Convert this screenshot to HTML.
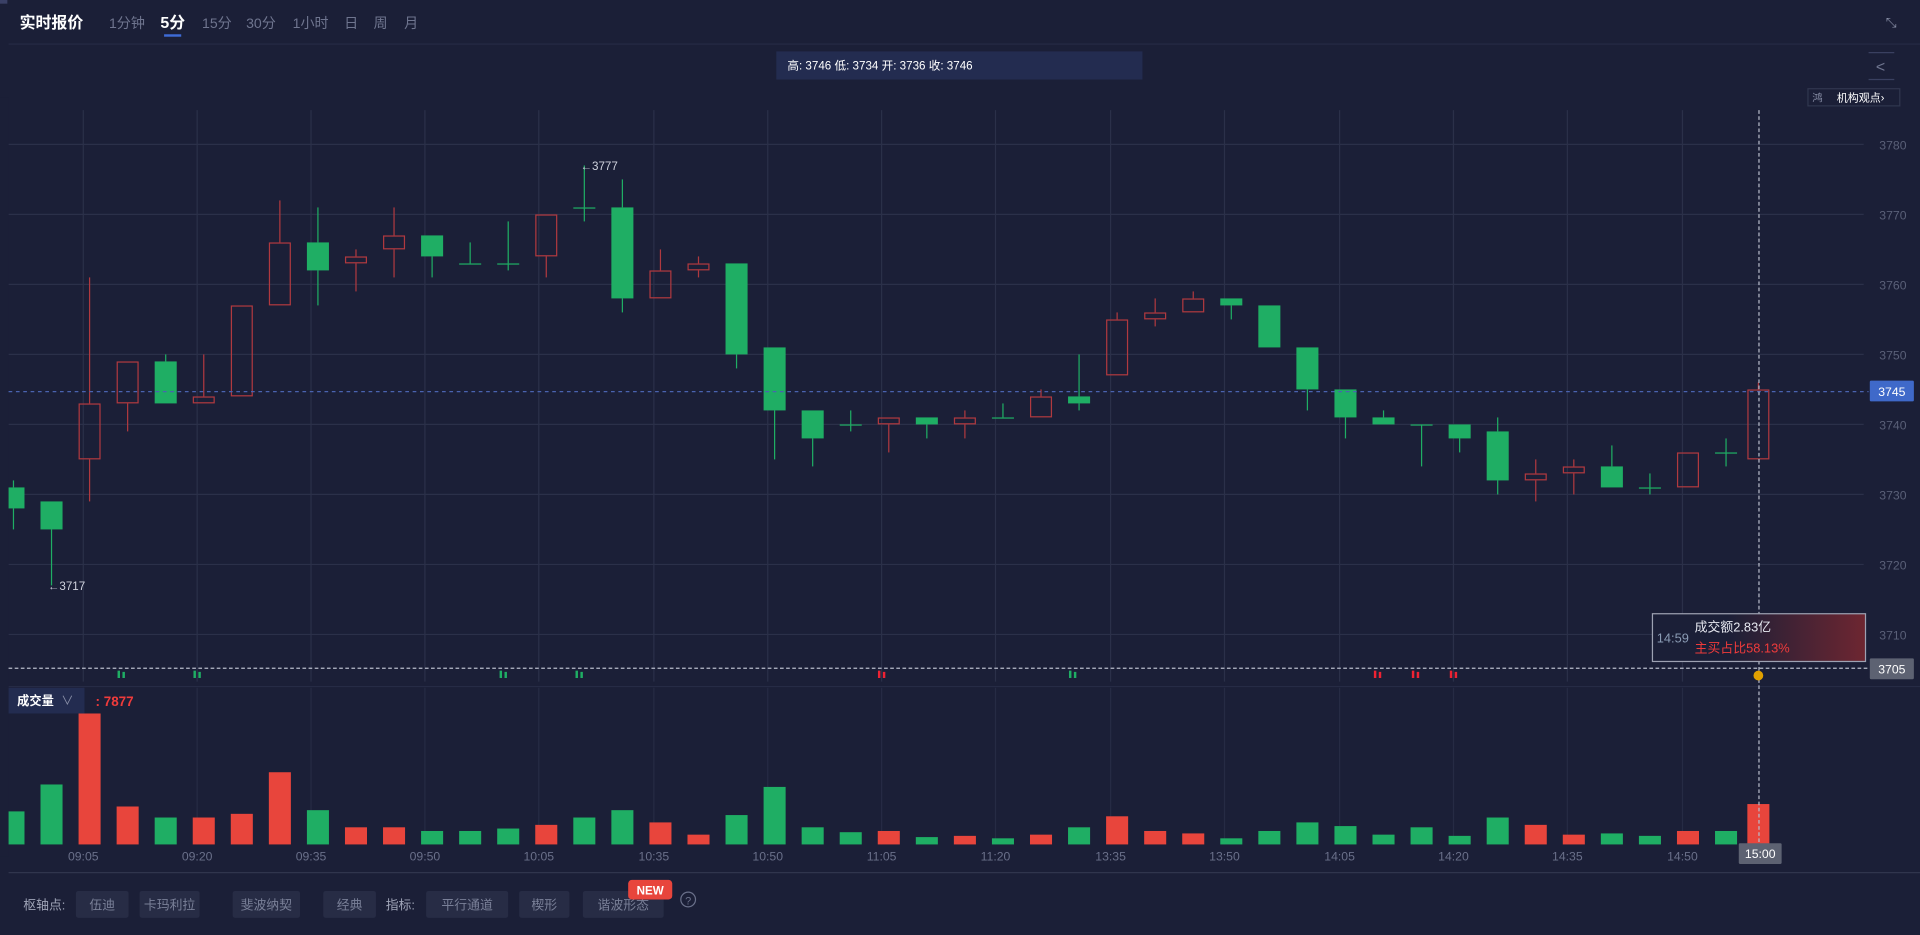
<!DOCTYPE html>
<html><head><meta charset="utf-8">
<style>
html,body{margin:0;padding:0;background:#1b1f37;overflow:hidden}
svg{display:block}
text{font-family:"Liberation Sans","Noto Sans CJK SC",sans-serif}
</style></head><body>
<svg id="s" width="1920" height="935" viewBox="0 0 1568 764" preserveAspectRatio="none" xmlns="http://www.w3.org/2000/svg">
<rect width="1568" height="764" fill="#1b1f37"/>
<rect x="0" y="0" width="6" height="3" fill="#3a4066"/>
<text x="16" y="23" fill="#fff" font-size="13" font-weight="bold">实时报价</text>
<text x="89" y="23" fill="#6f758f" font-size="11.5">1分钟</text>
<text x="131" y="23" fill="#fff" font-size="13" font-weight="bold">5分</text>
<rect x="134" y="28" width="14" height="2" fill="#3e6bd6"/>
<text x="165" y="23" fill="#6f758f" font-size="11.5">15分</text>
<text x="201" y="23" fill="#6f758f" font-size="11.5">30分</text>
<text x="239" y="23" fill="#6f758f" font-size="11.5">1小时</text>
<text x="281" y="23" fill="#6f758f" font-size="11.5">日</text>
<text x="305" y="23" fill="#6f758f" font-size="11.5">周</text>
<text x="330" y="23" fill="#6f758f" font-size="11.5">月</text>
<text x="1540" y="22" fill="#8a90a8" font-size="11">⤡</text>
<line x1="7" y1="36" x2="1568" y2="36" stroke="#262b45" stroke-width="1"/>
<rect x="634" y="42" width="299" height="23" fill="#232c50"/>
<text x="643" y="57" fill="#fff" font-size="9.5">高: 3746 低: 3734 开: 3736 收: 3746</text>
<line x1="1526" y1="43" x2="1547" y2="43" stroke="#3a4060"/><line x1="1526" y1="65" x2="1547" y2="65" stroke="#3a4060"/>
<text x="1532" y="59" fill="#6f758f" font-size="13">&lt;</text>
<rect x="1476.5" y="72.5" width="75" height="14" fill="none" stroke="#30364f"/>
<text x="1480" y="83" fill="#8a90a8" font-size="8.5">鸿</text>
<text x="1500" y="83" fill="#fff" font-size="9">机构观点›</text>
<g id="grid"></g>
<g id="c"></g>
<g id="v"></g>
<g id="ov"></g>
</svg>
<script>
var NS="http://www.w3.org/2000/svg";
function el(p,t,a,txt){var e=document.createElementNS(NS,t);for(var k in a)e.setAttribute(k,a[k]);if(txt!=null)e.textContent=txt;document.getElementById(p).appendChild(e);return e;}
function Y(p){return 118+(3780-p)*5.72;}
var tl=[["09:05",68],["09:20",161],["09:35",254],["09:50",347],["10:05",440],["10:35",534],["10:50",627],["11:05",720],["11:20",813],["13:35",907],["13:50",1000],["14:05",1094],["14:20",1187],["14:35",1280],["14:50",1374]];
tl.forEach(function(t){el("grid","line",{x1:t[1],y1:90,x2:t[1],y2:557,stroke:"#2b3049"});el("grid","line",{x1:t[1],y1:562,x2:t[1],y2:690,stroke:"#262b44"});el("grid","text",{x:t[1],y:703,fill:"#6a708a","font-size":10,"text-anchor":"middle"},t[0]);});
[3780,3770,3760,3750,3740,3730,3720,3710].forEach(function(p){var y=Y(p);el("grid","line",{x1:7,y1:y,x2:1522,y2:y,stroke:"#2b3049"});el("grid","text",{x:1557,y:y+4,fill:"#5a6078","font-size":10,"text-anchor":"end"},p);});
el("grid","line",{x1:7,y1:561,x2:1568,y2:561,stroke:"#262b45"});
el("grid","line",{x1:7,y1:713,x2:1568,y2:713,stroke:"#30354d"});
var D=[[3731,3732,3725,3728],[3729,3729,3717,3725],[3735,3761,3729,3743],[3743,3749,3739,3749],[3749,3750,3743,3743],[3743,3750,3743,3744],[3744,3757,3744,3757],[3757,3772,3757,3766],[3766,3771,3757,3762],[3763,3765,3759,3764],[3765,3771,3761,3767],[3767,3767,3761,3764],[3763,3766,3763,3763],[3763,3769,3762,3763],[3764,3770,3761,3770],[3771,3777,3769,3771],[3771,3775,3756,3758],[3758,3765,3758,3762],[3762,3764,3761,3763],[3763,3763,3748,3750],[3751,3751,3735,3742],[3742,3742,3734,3738],[3740,3742,3739,3740],[3740,3741,3736,3741],[3741,3741,3738,3740],[3740,3742,3738,3741],[3741,3743,3741,3741],[3741,3745,3741,3744],[3744,3750,3742,3743],[3747,3756,3747,3755],[3755,3758,3754,3756],[3756,3759,3756,3758],[3758,3758,3755,3757],[3757,3757,3751,3751],[3751,3751,3742,3745],[3745,3745,3738,3741],[3741,3742,3740,3740],[3740,3740,3734,3740],[3740,3740,3736,3738],[3739,3741,3730,3732],[3732,3735,3729,3733],[3733,3735,3730,3734],[3734,3737,3731,3731],[3731,3733,3730,3731],[3731,3736,3731,3736],[3736,3738,3734,3736],[3735,3746,3735,3745]];
var VT=[663,641,583,659,668,668,665,631,662,676,676,679,679,677,674,668,662,672,682,666,643,676,680,679,684,683,685,682,676,667,679,681,685,679,672,675,682,676,683,668,674,682,681,683,679,679,657];
var G="#1fae64",R="#b0393f",VR="#e8453c";
D.forEach(function(d,i){
 var x=11+i*31.08; if(i==46)x=1436;
 var up=d[3]>d[0]; var col=up?R:G;
 var t=Y(Math.max(d[0],d[3])),b=Y(Math.min(d[0],d[3]));
 el("c","line",{x1:x,y1:Y(d[1]),x2:x,y2:t,stroke:col,"stroke-width":1});
 el("c","line",{x1:x,y1:b,x2:x,y2:Y(d[2]),stroke:col,"stroke-width":1});
 var h=Math.max(b-t,1);
 if(up) el("c","rect",{x:x-8.5,y:t+0.5,width:17,height:Math.max(h-1,1),fill:"none",stroke:col,"stroke-width":1});
 else el("c","rect",{x:x-9,y:t,width:18,height:h,fill:col});
 var vx=x-9, w=18; if(vx<7){w-=7-vx;vx=7;}
 el("v","rect",{x:vx,y:VT[i],width:w,height:690-VT[i],fill:up?VR:G});
});
el("c","rect",{x:0,y:80,width:7,height:620,fill:"#1b1f37"});
el("ov","text",{x:474,y:139,fill:"#d0d3de","font-size":9.5},"←3777");
el("ov","text",{x:39,y:482,fill:"#d0d3de","font-size":9.5},"←3717");
el("ov","line",{x1:7,y1:320,x2:1526,y2:320,stroke:"#4a63b0","stroke-dasharray":"3,3"});
el("ov","line",{x1:7,y1:546,x2:1526,y2:546,stroke:"#b8bccb","stroke-dasharray":"3,2"});
el("ov","line",{x1:1436.5,y1:90,x2:1436.5,y2:690,stroke:"#b8bccb","stroke-dasharray":"3,2"});
el("ov","rect",{x:1527,y:311,width:36,height:17,fill:"#3f69c9",rx:1});
el("ov","text",{x:1545,y:323.5,fill:"#fff","font-size":10,"text-anchor":"middle"},"3745");
el("ov","rect",{x:1527,y:538,width:36,height:17,fill:"#5d6272",rx:1});
el("ov","text",{x:1545,y:550.5,fill:"#fff","font-size":10,"text-anchor":"middle"},"3705");
var df=el("ov","defs",{});
df.innerHTML='<linearGradient id="g1" x1="0" x2="1"><stop offset="0.35" stop-color="#1b1f37"/><stop offset="1" stop-color="#6e2631"/></linearGradient>';
el("ov","rect",{x:1349.5,y:501.5,width:174,height:39,fill:"url(#g1)",stroke:"#9da1b2"});
el("ov","text",{x:1353,y:525,fill:"#8a9bb4","font-size":10.5},"14:59");
el("ov","text",{x:1384,y:516,fill:"#e6e8f0","font-size":10.5},"成交额2.83亿");
el("ov","text",{x:1384,y:533,fill:"#ef3b3b","font-size":10.5},"主买占比58.13%");
el("ov","circle",{cx:1436,cy:552,r:4,fill:"#e0a000"});
[[99,G],[161,G],[411,G],[473,G],[720,"#e23"],[876,G],[1125,"#e23"],[1156,"#e23"],[1187,"#e23"]].forEach(function(m){el("ov","rect",{x:m[0]-3,y:548,width:2,height:6,fill:m[1]});el("ov","rect",{x:m[0]+1,y:549,width:2,height:5,fill:m[1]});});
el("ov","rect",{x:7,y:562,width:62,height:21,fill:"#232c50"});
el("ov","text",{x:14,y:576,fill:"#fff","font-size":10,"font-weight":"bold"},"成交量");
el("ov","text",{x:50,y:576,fill:"#8a90a8","font-size":10},"∨");
el("ov","text",{x:78,y:577,fill:"#ef3b3b","font-size":11,"font-weight":"bold"},": 7877");
el("ov","rect",{x:1420,y:689,width:35,height:17,fill:"#5d6272",rx:1});
el("ov","text",{x:1437.5,y:701,fill:"#fff","font-size":10,"text-anchor":"middle"},"15:00");
el("ov","text",{x:19,y:743,fill:"#a0a5b8","font-size":10.5},"枢轴点:");
[[62,43,"伍迪"],[114,49,"卡玛利拉"],[190,55,"斐波纳契"],[264,43,"经典"]].forEach(function(b){el("ov","rect",{x:b[0],y:728,width:b[1],height:22,fill:"#272c45",rx:2});el("ov","text",{x:b[0]+b[1]/2,y:743,fill:"#7a8098","font-size":10.5,"text-anchor":"middle"},b[2]);});
el("ov","text",{x:315,y:743,fill:"#a0a5b8","font-size":10.5},"指标:");
[[348,67,"平行通道"],[424,41,"楔形"],[476,66,"谐波形态"]].forEach(function(b){el("ov","rect",{x:b[0],y:728,width:b[1],height:22,fill:"#272c45",rx:2});el("ov","text",{x:b[0]+b[1]/2,y:743,fill:"#7a8098","font-size":10.5,"text-anchor":"middle"},b[2]);});
el("ov","rect",{x:513,y:719,width:36,height:16,fill:"#e8453c",rx:3});
el("ov","text",{x:531,y:731,fill:"#fff","font-size":9.5,"font-weight":"bold","text-anchor":"middle"},"NEW");
el("ov","circle",{cx:562,cy:735,r:6,fill:"none",stroke:"#6a708a"});
el("ov","text",{x:562,y:739,fill:"#6a708a","font-size":9,"text-anchor":"middle"},"?");
</script>
</body></html>
